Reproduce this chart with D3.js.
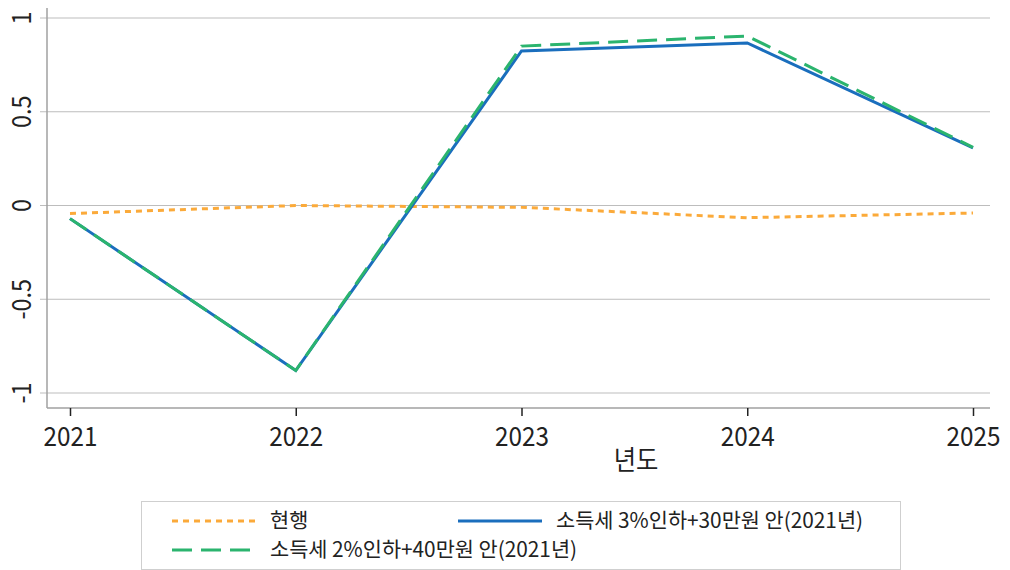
<!DOCTYPE html>
<html>
<head>
<meta charset="utf-8">
<script src="https://cdn.jsdelivr.net/npm/d3@7"></script>
<style>
  body { margin: 0; background: #fff; }
  text { font-family: "Noto Sans CJK KR", "Noto Sans", sans-serif; fill: #222; }
</style>
</head>
<body>
<svg id="chart" width="1010" height="570"></svg>
<script>
// Data
const years = [2021, 2022, 2023, 2024, 2025];
const current = [-0.043, 0.0, -0.01, -0.065, -0.04];
const plan3 = [-0.07, -0.88, 0.824, 0.867, 0.307];
const plan2 = [-0.07, -0.88, 0.85, 0.904, 0.31];
const yTicks = [-1, -0.5, 0, 0.5, 1];
const xTitle = "년도";

const series = [
    { name: "현행", values: current, color: "#FBAA3A", dash: "6,5" },
    { name: "소득세 3%인하+30만원 안(2021년)", values: plan3, color: "#1A6EBD", dash: null },
    { name: "소득세 2%인하+40만원 안(2021년)", values: plan2, color: "#2BB46E", dash: "20,9" }
];

const svg = d3.select("#chart");
const plot = { left: 47, right: 990, top: 8, bottom: 408 };

const x = d3.scaleLinear().domain([2021, 2025]).range([70, 973]);
const y = d3.scaleLinear().domain([-1, 1]).range([393, 18]);

// Gridlines
svg.append("g")
    .selectAll("line")
    .data(yTicks)
    .enter().append("line")
    .attr("x1", 40).attr("x2", plot.right)
    .attr("y1", d => y(d)).attr("y2", d => y(d))
    .attr("stroke", "#bdbdbd")
    .attr("stroke-width", 1);

// Axis lines
svg.append("line").attr("x1", plot.left).attr("x2", plot.left).attr("y1", plot.top).attr("y2", plot.bottom)
    .attr("stroke", "#a0a0a0").attr("stroke-width", 1.5);
svg.append("line").attr("x1", plot.left).attr("x2", plot.right).attr("y1", plot.bottom).attr("y2", plot.bottom)
    .attr("stroke", "#a0a0a0").attr("stroke-width", 1.5);

// Y tick labels (rotated, slightly condensed)
svg.append("g")
    .selectAll("text")
    .data(yTicks)
    .enter().append("text")
    .attr("transform", d => `translate(31,${y(d)}) rotate(-90) scale(0.9,1)`)
    .attr("text-anchor", "middle")
    .style("font-size", "26px")
    .text(d => d);

// X ticks
const xAxis = svg.append("g").attr("transform", `translate(0,${plot.bottom})`)
    .call(d3.axisBottom(x).tickValues(years).tickFormat(d3.format("d")).tickSize(8).tickPadding(0));
xAxis.select(".domain").remove();
xAxis.selectAll(".tick line").attr("stroke", "#222").attr("stroke-width", 1.5);
xAxis.selectAll(".tick text")
    .attr("y", 38).attr("dy", null)
    .attr("transform", "scale(0.9,1)")
    .style("font-size", "27px")
    .style("font-family", "'Noto Sans CJK KR', sans-serif")
    .attr("fill", "#222");

svg.append("text")
    .attr("transform", "translate(636,470) scale(0.9,1)")
    .attr("text-anchor", "middle")
    .style("font-size", "27px")
    .text(xTitle);

// Lines
const line = d3.line().x((d, i) => x(years[i])).y(d => y(d));
svg.append("g")
    .selectAll("path")
    .data(series)
    .enter().append("path")
    .attr("d", d => line(d.values))
    .attr("fill", "none")
    .attr("stroke", d => d.color)
    .attr("stroke-width", 3)
    .attr("stroke-dasharray", d => d.dash);

// Legend
const legend = svg.append("g");
legend.append("rect")
    .attr("x", 141.5).attr("y", 501.5).attr("width", 759).attr("height", 68)
    .attr("fill", "#fff").attr("stroke", "#cfcfcf");

const legendPos = [[172, 521], [458, 521], [172, 550]];
series.forEach((s, i) => {
    const [lx, ly] = legendPos[i];
    legend.append("line")
        .attr("x1", lx).attr("x2", lx + 84).attr("y1", ly).attr("y2", ly)
        .attr("stroke", s.color).attr("stroke-width", 3)
        .attr("stroke-dasharray", s.dash);
    legend.append("text")
        .attr("x", lx + 98).attr("y", ly + 7)
        .style("font-size", "20.8px")
        .text(s.name);
});
</script>
</body>
</html>
